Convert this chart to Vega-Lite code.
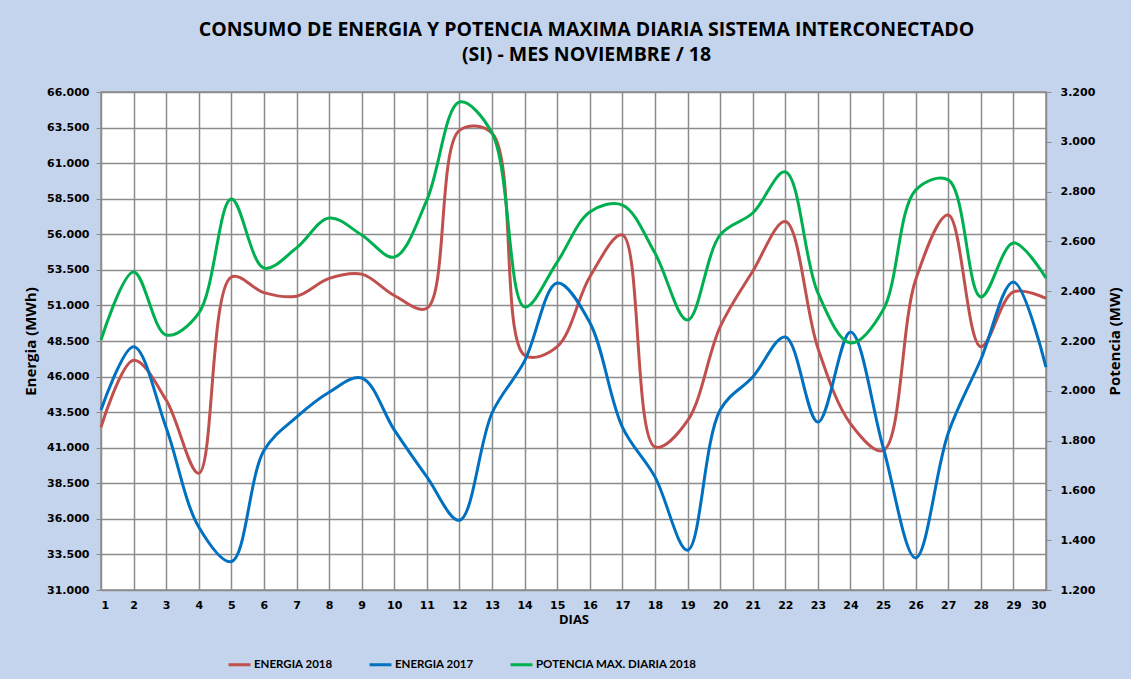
{
  "$schema": "https://vega.github.io/schema/vega-lite/v6.json",
  "width": 945,
  "height": 498,
  "autosize": "none",
  "padding": {"left": 101, "top": 92, "right": 85, "bottom": 89},
  "background": "#c4d4ec",
  "title": {
    "text": ["CONSUMO DE ENERGIA Y POTENCIA MAXIMA DIARIA SISTEMA INTERCONECTADO", "(SI) - MES NOVIEMBRE / 18"],
    "anchor": "middle",
    "font": "Open Sans",
    "fontSize": 19.5,
    "fontWeight": "bold",
    "color": "#000000",
    "lineHeight": 25,
    "offset": 21,
    "dx": 13
  },
  "datasets": {
    "d": [
      {"dia": 1, "serie": "ENERGIA 2018", "valor": 42450},
      {"dia": 2, "serie": "ENERGIA 2018", "valor": 47150},
      {"dia": 3, "serie": "ENERGIA 2018", "valor": 44350},
      {"dia": 4, "serie": "ENERGIA 2018", "valor": 39200},
      {"dia": 5, "serie": "ENERGIA 2018", "valor": 53000},
      {"dia": 6, "serie": "ENERGIA 2018", "valor": 51900},
      {"dia": 7, "serie": "ENERGIA 2018", "valor": 51650},
      {"dia": 8, "serie": "ENERGIA 2018", "valor": 52900},
      {"dia": 9, "serie": "ENERGIA 2018", "valor": 53200},
      {"dia": 10, "serie": "ENERGIA 2018", "valor": 51700},
      {"dia": 11, "serie": "ENERGIA 2018", "valor": 50800},
      {"dia": 12, "serie": "ENERGIA 2018", "valor": 63300},
      {"dia": 13, "serie": "ENERGIA 2018", "valor": 63100},
      {"dia": 14, "serie": "ENERGIA 2018", "valor": 47500},
      {"dia": 15, "serie": "ENERGIA 2018", "valor": 48100},
      {"dia": 16, "serie": "ENERGIA 2018", "valor": 53000},
      {"dia": 17, "serie": "ENERGIA 2018", "valor": 55950},
      {"dia": 18, "serie": "ENERGIA 2018", "valor": 41050},
      {"dia": 19, "serie": "ENERGIA 2018", "valor": 42900},
      {"dia": 20, "serie": "ENERGIA 2018", "valor": 49500},
      {"dia": 21, "serie": "ENERGIA 2018", "valor": 53400},
      {"dia": 22, "serie": "ENERGIA 2018", "valor": 56900},
      {"dia": 23, "serie": "ENERGIA 2018", "valor": 48000},
      {"dia": 24, "serie": "ENERGIA 2018", "valor": 42700},
      {"dia": 25, "serie": "ENERGIA 2018", "valor": 40800},
      {"dia": 26, "serie": "ENERGIA 2018", "valor": 52800},
      {"dia": 27, "serie": "ENERGIA 2018", "valor": 57350},
      {"dia": 28, "serie": "ENERGIA 2018", "valor": 48100},
      {"dia": 29, "serie": "ENERGIA 2018", "valor": 51950},
      {"dia": 30, "serie": "ENERGIA 2018", "valor": 51500},
      {"dia": 1, "serie": "ENERGIA 2017", "valor": 43650},
      {"dia": 2, "serie": "ENERGIA 2017", "valor": 48100},
      {"dia": 3, "serie": "ENERGIA 2017", "valor": 42400},
      {"dia": 4, "serie": "ENERGIA 2017", "valor": 35430},
      {"dia": 5, "serie": "ENERGIA 2017", "valor": 33000},
      {"dia": 6, "serie": "ENERGIA 2017", "valor": 40800},
      {"dia": 7, "serie": "ENERGIA 2017", "valor": 43150},
      {"dia": 8, "serie": "ENERGIA 2017", "valor": 44900},
      {"dia": 9, "serie": "ENERGIA 2017", "valor": 45900},
      {"dia": 10, "serie": "ENERGIA 2017", "valor": 42250},
      {"dia": 11, "serie": "ENERGIA 2017", "valor": 38950},
      {"dia": 12, "serie": "ENERGIA 2017", "valor": 35900},
      {"dia": 13, "serie": "ENERGIA 2017", "valor": 43440},
      {"dia": 14, "serie": "ENERGIA 2017", "valor": 47100},
      {"dia": 15, "serie": "ENERGIA 2017", "valor": 52580},
      {"dia": 16, "serie": "ENERGIA 2017", "valor": 49800},
      {"dia": 17, "serie": "ENERGIA 2017", "valor": 42450},
      {"dia": 18, "serie": "ENERGIA 2017", "valor": 38950},
      {"dia": 19, "serie": "ENERGIA 2017", "valor": 33800},
      {"dia": 20, "serie": "ENERGIA 2017", "valor": 43650},
      {"dia": 21, "serie": "ENERGIA 2017", "valor": 45970},
      {"dia": 22, "serie": "ENERGIA 2017", "valor": 48780},
      {"dia": 23, "serie": "ENERGIA 2017", "valor": 42800},
      {"dia": 24, "serie": "ENERGIA 2017", "valor": 49130},
      {"dia": 25, "serie": "ENERGIA 2017", "valor": 41050},
      {"dia": 26, "serie": "ENERGIA 2017", "valor": 33250},
      {"dia": 27, "serie": "ENERGIA 2017", "valor": 42030},
      {"dia": 28, "serie": "ENERGIA 2017", "valor": 47200},
      {"dia": 29, "serie": "ENERGIA 2017", "valor": 52650},
      {"dia": 30, "serie": "ENERGIA 2017", "valor": 46670},
      {"dia": 1, "serie": "POTENCIA MAX. DIARIA 2018", "valor": 2204},
      {"dia": 2, "serie": "POTENCIA MAX. DIARIA 2018", "valor": 2477},
      {"dia": 3, "serie": "POTENCIA MAX. DIARIA 2018", "valor": 2224},
      {"dia": 4, "serie": "POTENCIA MAX. DIARIA 2018", "valor": 2312},
      {"dia": 5, "serie": "POTENCIA MAX. DIARIA 2018", "valor": 2770},
      {"dia": 6, "serie": "POTENCIA MAX. DIARIA 2018", "valor": 2493},
      {"dia": 7, "serie": "POTENCIA MAX. DIARIA 2018", "valor": 2574},
      {"dia": 8, "serie": "POTENCIA MAX. DIARIA 2018", "valor": 2694},
      {"dia": 9, "serie": "POTENCIA MAX. DIARIA 2018", "valor": 2626},
      {"dia": 10, "serie": "POTENCIA MAX. DIARIA 2018", "valor": 2537},
      {"dia": 11, "serie": "POTENCIA MAX. DIARIA 2018", "valor": 2766},
      {"dia": 12, "serie": "POTENCIA MAX. DIARIA 2018", "valor": 3160},
      {"dia": 13, "serie": "POTENCIA MAX. DIARIA 2018", "valor": 3035},
      {"dia": 14, "serie": "POTENCIA MAX. DIARIA 2018", "valor": 2337},
      {"dia": 15, "serie": "POTENCIA MAX. DIARIA 2018", "valor": 2517},
      {"dia": 16, "serie": "POTENCIA MAX. DIARIA 2018", "valor": 2718},
      {"dia": 17, "serie": "POTENCIA MAX. DIARIA 2018", "valor": 2746},
      {"dia": 18, "serie": "POTENCIA MAX. DIARIA 2018", "valor": 2553},
      {"dia": 19, "serie": "POTENCIA MAX. DIARIA 2018", "valor": 2284},
      {"dia": 20, "serie": "POTENCIA MAX. DIARIA 2018", "valor": 2626},
      {"dia": 21, "serie": "POTENCIA MAX. DIARIA 2018", "valor": 2714},
      {"dia": 22, "serie": "POTENCIA MAX. DIARIA 2018", "valor": 2879},
      {"dia": 23, "serie": "POTENCIA MAX. DIARIA 2018", "valor": 2393},
      {"dia": 24, "serie": "POTENCIA MAX. DIARIA 2018", "valor": 2192},
      {"dia": 25, "serie": "POTENCIA MAX. DIARIA 2018", "valor": 2324},
      {"dia": 26, "serie": "POTENCIA MAX. DIARIA 2018", "valor": 2806},
      {"dia": 27, "serie": "POTENCIA MAX. DIARIA 2018", "valor": 2847},
      {"dia": 28, "serie": "POTENCIA MAX. DIARIA 2018", "valor": 2377},
      {"dia": 29, "serie": "POTENCIA MAX. DIARIA 2018", "valor": 2594},
      {"dia": 30, "serie": "POTENCIA MAX. DIARIA 2018", "valor": 2453}
    ]
  },
  "data": {"name": "d"},
  "encoding": {
    "x": {
      "field": "dia",
      "type": "quantitative",
      "scale": {"domain": [1, 30], "nice": false, "zero": false},
      "axis": {
        "title": "DIAS",
        "titleFont": "Open Sans",
        "titleFontSize": 13,
        "values": [1,2,3,4,5,6,7,8,9,10,11,12,13,14,15,16,17,18,19,20,21,22,23,24,25,26,27,28,29,30],
        "format": "d",
        "grid": true,
        "gridColor": "#8c8c8c",
        "gridWidth": 1.5,
        "tickSize": 0,
        "labelPadding": 9,
        "titlePadding": 3,
        "domainColor": "#8c8c8c"
      }
    },
    "color": {
      "field": "serie",
      "type": "nominal",
      "scale": {
        "domain": ["ENERGIA 2018", "ENERGIA 2017", "POTENCIA MAX. DIARIA 2018"],
        "range": ["#c0504d", "#0070c0", "#00b050"]
      },
      "legend": {
        "title": null,
        "orient": "none",
        "legendX": 126,
        "legendY": 560,
        "direction": "horizontal",
        "symbolType": "stroke",
        "symbolStrokeWidth": 3,
        "symbolSize": 480,
        "labelFont": "Lato",
        "labelFontSize": 11.5,
        "labelFontWeight": "bold",
        "labelColor": "#000000",
        "labelLimit": 400,
        "columnPadding": 30,
        "labelOffset": 2
      }
    }
  },
  "layer": [
    {
      "transform": [{"filter": "datum.serie !== 'POTENCIA MAX. DIARIA 2018'"}],
      "mark": {"type": "line", "interpolate": "catmull-rom", "strokeWidth": 3},
      "encoding": {
        "y": {
          "field": "valor",
          "type": "quantitative",
          "scale": {"domain": [31000, 66000], "nice": false, "zero": false},
          "axis": {
            "title": "Energia (MWh)",
            "values": [31000,33500,36000,38500,41000,43500,46000,48500,51000,53500,56000,58500,61000,63500,66000],
            "format": ",.0f",
            "grid": true,
            "gridColor": "#8c8c8c",
            "gridWidth": 1.5,
            "tickSize": 5,
            "tickColor": "#8c8c8c",
            "labelPadding": 7,
            "titlePadding": 8,
            "domainColor": "#8c8c8c"
          }
        }
      }
    },
    {
      "transform": [{"filter": "datum.serie === 'POTENCIA MAX. DIARIA 2018'"}],
      "mark": {"type": "line", "interpolate": "catmull-rom", "strokeWidth": 3},
      "encoding": {
        "y": {
          "field": "valor",
          "type": "quantitative",
          "scale": {"domain": [1200, 3200], "nice": false, "zero": false},
          "axis": {
            "orient": "right",
            "title": "Potencia (MW)",
            "titleAngle": 270,
            "values": [1200,1400,1600,1800,2000,2200,2400,2600,2800,3000,3200],
            "format": ",.0f",
            "grid": false,
            "tickSize": 5,
            "tickColor": "#8c8c8c",
            "labelPadding": 9,
            "titlePadding": 28,
            "domainColor": "#8c8c8c"
          }
        }
      }
    }
  ],
  "resolve": {"scale": {"y": "independent"}},
  "config": {
    "locale": {
      "number": {"decimal": ",", "thousands": ".", "grouping": [3], "currency": ["$", ""]}
    },
    "view": {"fill": "#ffffff", "stroke": "#8c8c8c", "strokeWidth": 1.5},
    "axis": {
      "labelFont": "DejaVu Sans",
      "labelFontSize": 11,
      "labelFontWeight": "bold",
      "labelColor": "#000000",
      "titleFont": "Open Sans",
      "titleFontSize": 15,
      "titleFontWeight": "bold",
      "titleColor": "#000000"
    }
  }
}
